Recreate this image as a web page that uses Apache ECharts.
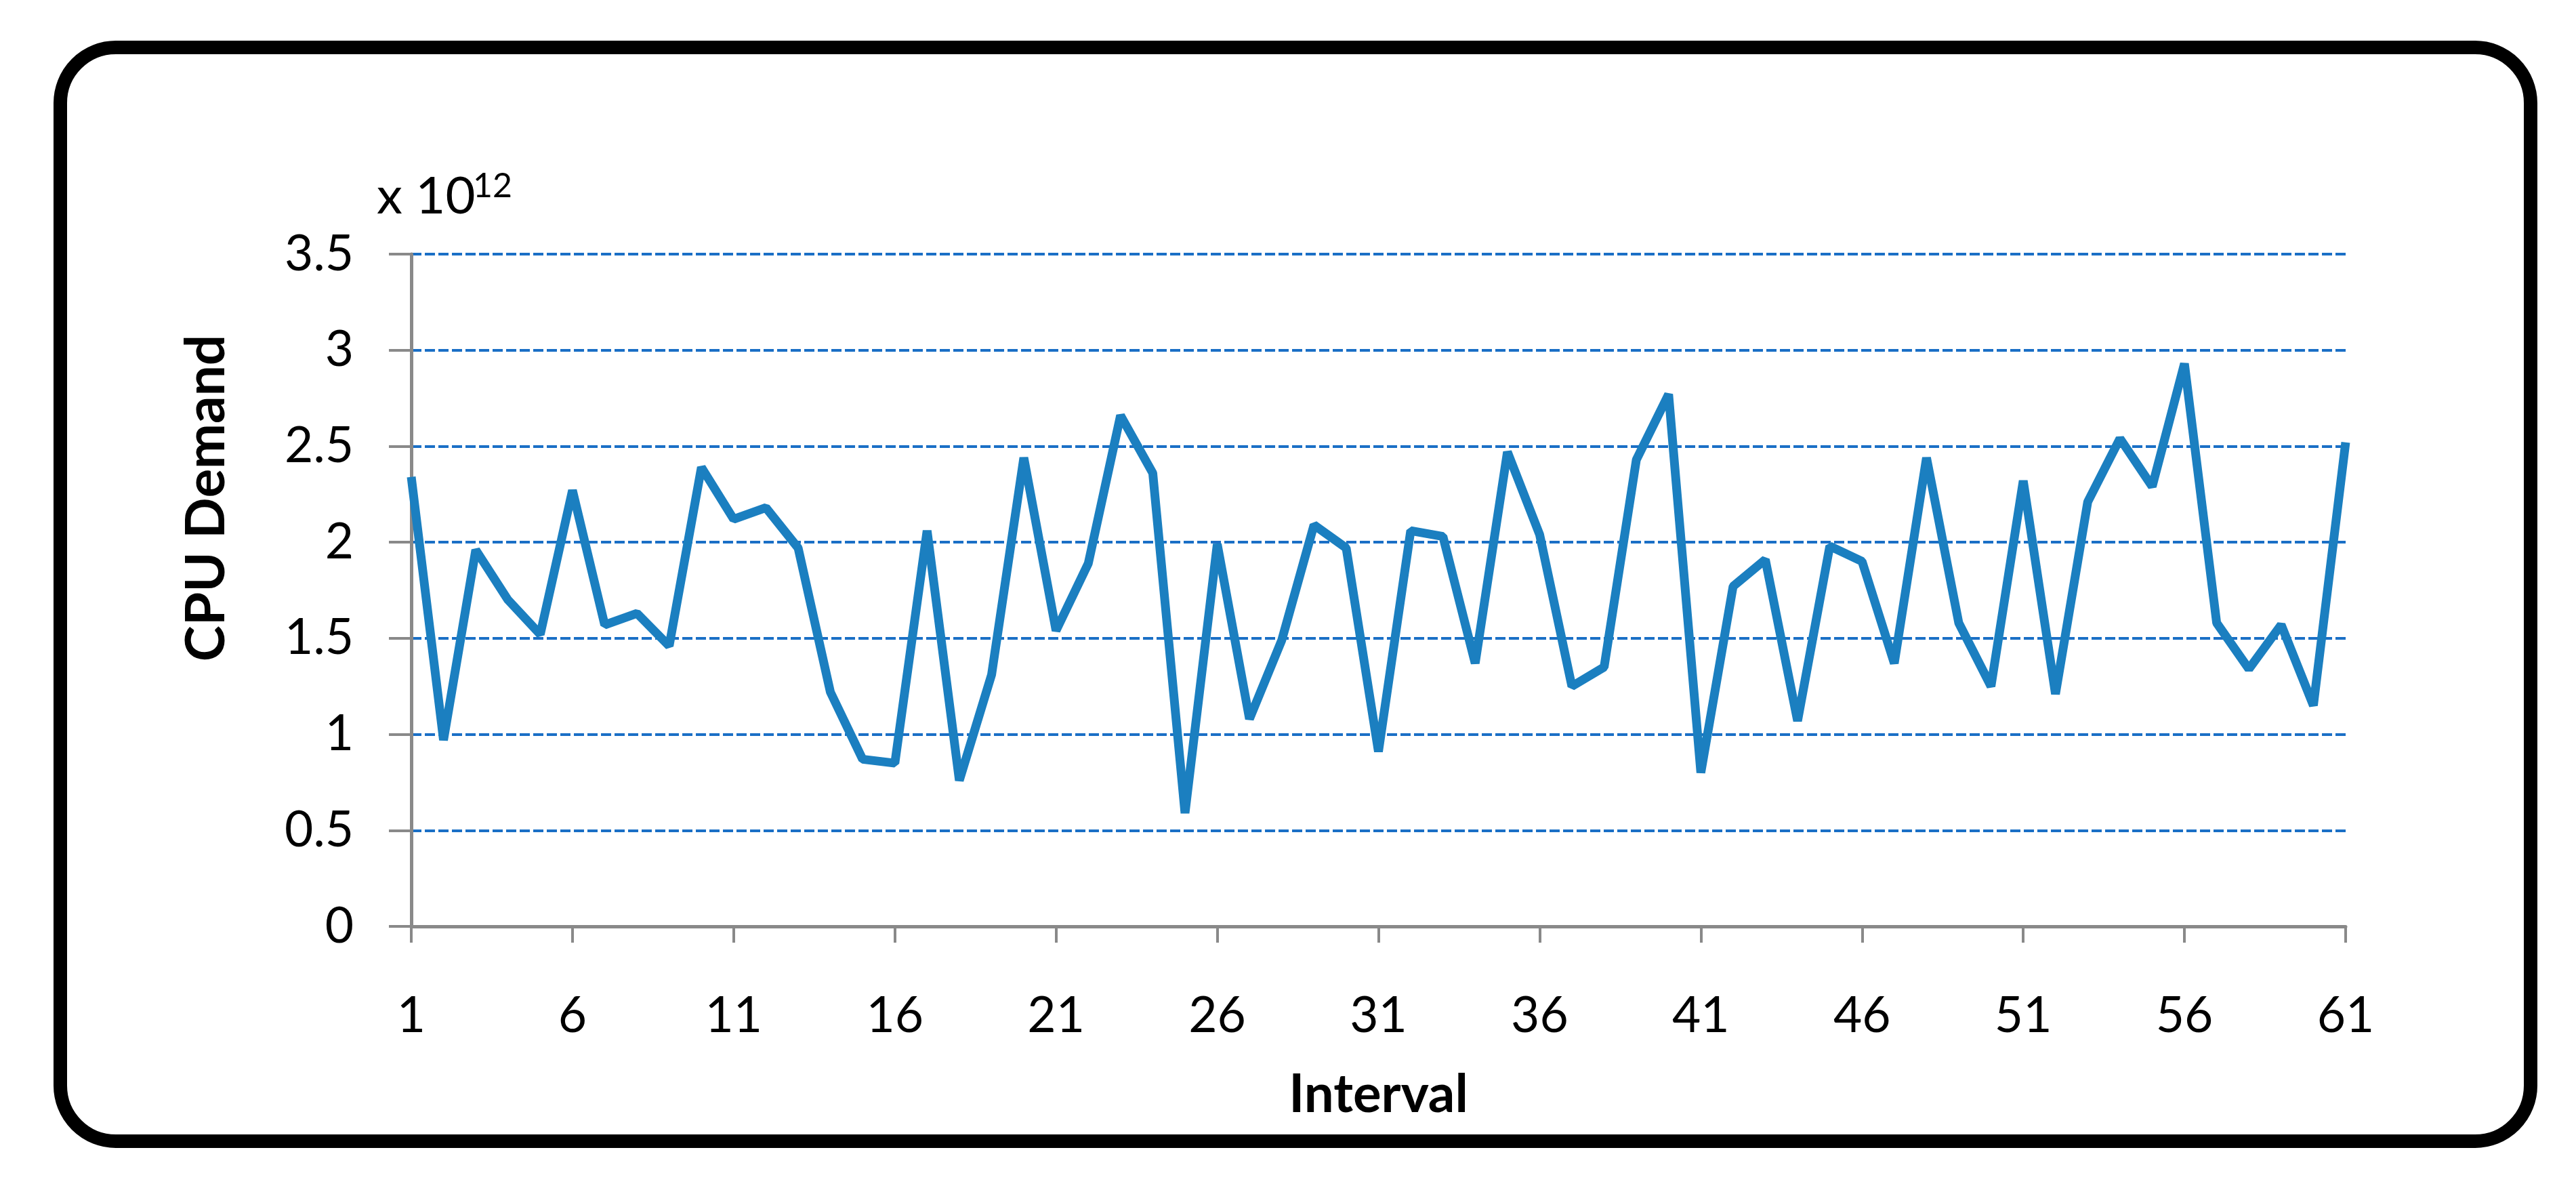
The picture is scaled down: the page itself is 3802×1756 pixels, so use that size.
<!DOCTYPE html>
<html>
<head>
<meta charset="utf-8">
<script src="https://cdn.jsdelivr.net/npm/echarts@6/dist/echarts.min.js"></script>
<style>
html,body{margin:0;padding:0;background:#fff;}
#chart{width:3802px;height:1756px;}
</style>
</head>
<body>
<div id="chart"></div>
<script>
// Interval index (x axis categories)
const intervals = Array.from({length: 61}, (_, i) => String(i + 1));
// CPU demand per interval, in units of 10^12
const cpuDemand = [
  2.34, 0.97, 1.96, 1.70, 1.52, 2.27, 1.57, 1.63, 1.46, 2.39,
  2.12, 2.18, 1.97, 1.22, 0.87, 0.85, 2.06, 0.76, 1.31, 2.44,
  1.54, 1.89, 2.66, 2.36, 0.59, 1.99, 1.08, 1.49, 2.09, 1.97,
  0.91, 2.06, 2.03, 1.37, 2.47, 2.04, 1.25, 1.35, 2.43, 2.77,
  0.80, 1.77, 1.91, 1.07, 1.98, 1.90, 1.37, 2.44, 1.58, 1.25,
  2.32, 1.21, 2.21, 2.54, 2.29, 2.93, 1.58, 1.34, 1.57, 1.15,
  2.52
];
// Axis text
const yAxisTitle = 'CPU Demand';
const xAxisTitle = 'Interval';
const scaleBase = 'x 10';
const scaleExp = '12';

const chart = echarts.init(document.getElementById('chart'), null, {renderer: 'canvas'});
const axisGray = '#898989';
const fontFam = 'Lato, "DejaVu Sans", sans-serif';

chart.setOption({
  backgroundColor: '#ffffff',
  animation: false,
  grid: {left: 607, right: 340, top: 375, bottom: 389, containLabel: false},
  xAxis: {
    type: 'category',
    data: intervals,
    boundaryGap: false,
    name: xAxisTitle,
    nameLocation: 'middle',
    nameGap: 210,
    nameTextStyle: {fontFamily: fontFam, fontWeight: 'bold', fontSize: 78, color: '#000'},
    axisLine: {show: true, lineStyle: {color: axisGray, width: 5}},
    axisTick: {show: true, interval: 4, length: 24, lineStyle: {color: axisGray, width: 4}},
    axisLabel: {interval: 4, margin: 96, fontFamily: fontFam, fontSize: 73, color: '#000'},
    splitLine: {show: false}
  },
  yAxis: {
    type: 'value',
    min: 0,
    max: 3.5,
    interval: 0.5,
    axisLine: {show: true, lineStyle: {color: axisGray, width: 5}},
    axisTick: {show: true, length: 33, lineStyle: {color: axisGray, width: 4}},
    axisLabel: {margin: 85, fontFamily: fontFam, fontSize: 73, color: '#000'},
    splitLine: {show: true, showMinLine: false, lineStyle: {color: '#1a6fc6', width: 4, type: [15, 5]}}
  },
  series: [{
    type: 'line',
    data: cpuDemand,
    showSymbol: false,
    symbol: 'none',
    smooth: false,
    lineStyle: {color: '#1b7fc0', width: 13, join: 'bevel'},
    z: 3
  }],
  graphic: [
    {
      type: 'rect',
      shape: {x: 89, y: 70, width: 3646, height: 1614, r: 82},
      style: {fill: 'none', stroke: '#000', lineWidth: 20},
      z: 10
    },
    {
      type: 'text',
      x: 305, y: 735,
      rotation: Math.PI / 2,
      style: {text: yAxisTitle, font: 'bold 80px ' + fontFam, fill: '#000', align: 'center', verticalAlign: 'middle'}
    },
    {
      type: 'text',
      x: 556, y: 290,
      style: {text: scaleBase, font: '76px ' + fontFam, fill: '#000', align: 'left', verticalAlign: 'middle'}
    },
    {
      type: 'text',
      x: 698, y: 275,
      style: {text: scaleExp, font: '50px ' + fontFam, fill: '#000', align: 'left', verticalAlign: 'middle'}
    }
  ]
});
</script>
</body>
</html>
